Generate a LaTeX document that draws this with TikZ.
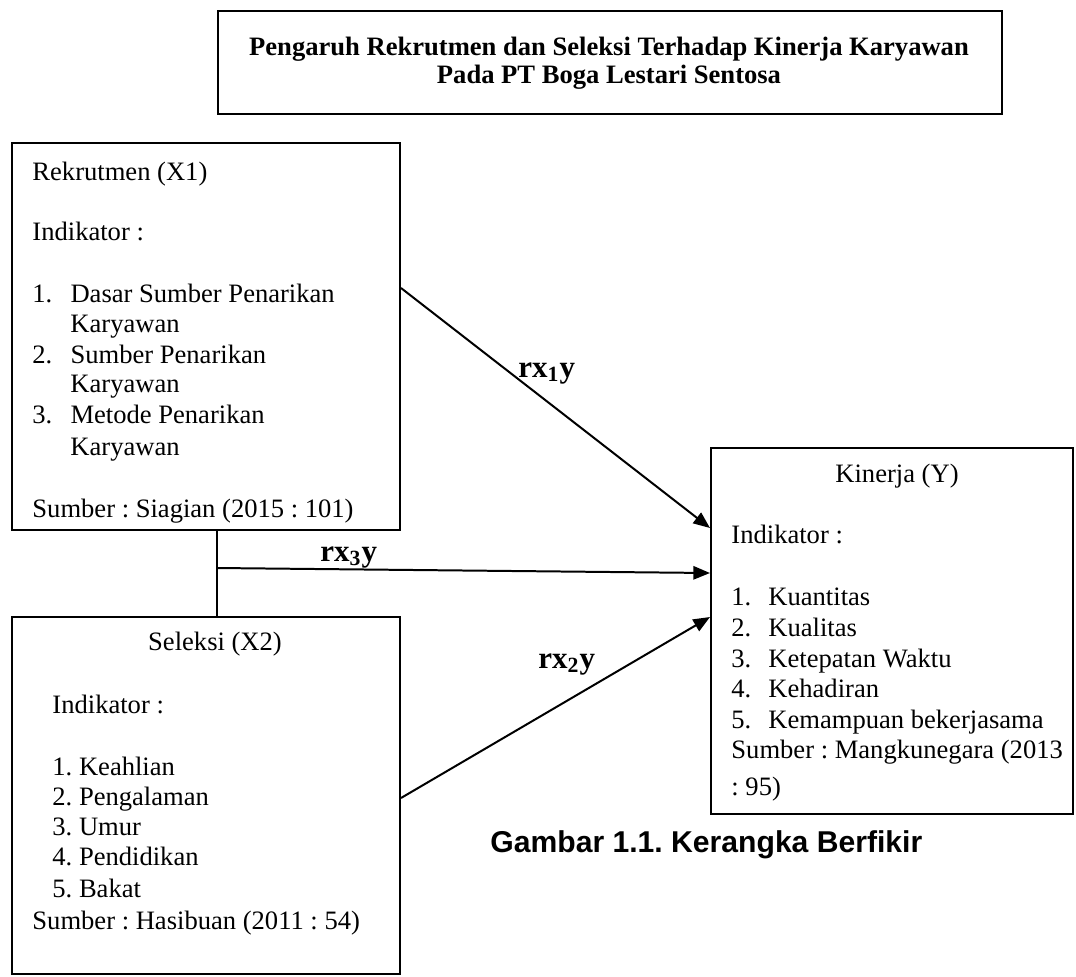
\documentclass[tikz,border=0pt]{standalone}
\usepackage{fontspec}
\setmainfont{Liberation Serif}
\newfontfamily\capfont{Liberation Sans}
\usetikzlibrary{arrows.meta,calc}
\newcommand\itmA[2]{\makebox[17.2pt][l]{#1}#2}
\newcommand\itmY[2]{\makebox[16.7pt][l]{#1}#2}
\frenchspacing
\begin{document}
\frenchspacing
\begin{tikzpicture}[x=0.4515pt,y=-0.4515pt,
  boxr/.style={draw, line width=0.9pt, inner sep=0pt, anchor=north west},
  tl/.style={anchor=base west, inner sep=0pt, font=\fontsize{12}{14}\selectfont},
  tc/.style={anchor=base, inner sep=0pt, font=\fontsize{12}{14}\selectfont},
  ttl/.style={anchor=base, inner sep=0pt, font=\fontsize{12}{14}\selectfont\bfseries},
  lbl/.style={anchor=base west, inner sep=0pt, font=\fontsize{14}{16}\selectfont\bfseries},
  conn/.style={line width=0.9pt, -{Triangle[length=7.5pt,width=6pt]}},
  link/.style={line width=0.9pt}]

\useasboundingbox (0,0) rectangle (1076,976);

% title
\node[boxr, line width=1pt, minimum width=784*0.4515pt, minimum height=103*0.4515pt] (title) at (217,10) {};
\node[ttl] (t1) at (609,55) {Pengaruh Rekrutmen dan Seleksi Terhadap Kinerja Karyawan};
\node[ttl] (t2) at (609,83) {Pada PT Boga Lestari Sentosa};

% boxes
\node[boxr, minimum width=388*0.4515pt, minimum height=387*0.4515pt] (x1) at (11,142) {};
\node[boxr, minimum width=388*0.4515pt, minimum height=357*0.4515pt] (x2) at (11,616) {};
\node[boxr, minimum width=362*0.4515pt, minimum height=366*0.4515pt] (y) at (710,447) {};

% X1 text
\node[tl] (x1a) at (32,180) {Rekrutmen (X1)};
\node[tl] (x1b) at (32,240) {Indikator :};
\node[tl] (x1c) at (32,302) {\itmA{1.}{Dasar Sumber Penarikan}};
\node[tl] (x1d) at (70,332) {Karyawan};
\node[tl] (x1e) at (32,363) {\itmA{2.}{Sumber Penarikan}};
\node[tl] (x1f) at (70,392) {Karyawan};
\node[tl] (x1g) at (32,423) {\itmA{3.}{Metode Penarikan}};
\node[tl] (x1h) at (70,455) {Karyawan};
\node[tl] (x1i) at (32,517) {Sumber : Siagian (2015 : 101)};

% X2 text
\node[tc] (x2a) at (215,650) {Seleksi (X2)};
\node[tl] (x2b) at (52,713) {Indikator :};
\node[tl] (x2c) at (52,775) {1. Keahlian};
\node[tl] (x2d) at (52,805) {2. Pengalaman};
\node[tl] (x2e) at (52,835) {3. Umur};
\node[tl] (x2f) at (52,865) {4. Pendidikan};
\node[tl] (x2g) at (52,897) {5. Bakat};
\node[tl] (x2h) at (32,929) {Sumber : Hasibuan (2011 : 54)};

% Y text
\node[tc] (ya) at (897,482) {Kinerja (Y)};
\node[tl] (yb) at (731,543) {Indikator :};
\node[tl] (yc) at (731,605) {\itmY{1.}{Kuantitas}};
\node[tl] (yd) at (731,636) {\itmY{2.}{Kualitas}};
\node[tl] (ye) at (731,667) {\itmY{3.}{Ketepatan Waktu}};
\node[tl] (yf) at (731,697) {\itmY{4.}{Kehadiran}};
\node[tl] (yg) at (731,728) {\itmY{5.}{Kemampuan bekerjasama}};
\node[tl] (yh) at (731,758) {Sumber : Mangkunegara (2013};
\node[tl] (yi) at (731,795) {: 95)};

% connectors
\draw[link] ($(x1.south west)+(206,0)$) -- ($(x2.north west)+(206,0)$);
\draw[conn] ($(x1.north east)+(0,146)$) -- ($(y.north west)+(0,81)$);
\draw[conn] ($(x1.south west)+(206,37)$) -- ($(y.north west)+(0,126)$);
\draw[conn] ($(x2.north east)+(0,182)$) -- ($(y.north west)+(0,170)$);

% labels
\node[lbl] (l1) at (518,377) {rx\textsubscript{1}y};
\node[lbl] (l3) at (320,561) {rx\textsubscript{3}y};
\node[lbl] (l2) at (538,668) {rx\textsubscript{2}y};

% caption
\node[anchor=base west, inner sep=0pt, font=\capfont\bfseries\fontsize{13.6}{16}\selectfont] (cap) at (490,852) {Gambar 1.1. Kerangka Berfikir};
\end{tikzpicture}
\end{document}
